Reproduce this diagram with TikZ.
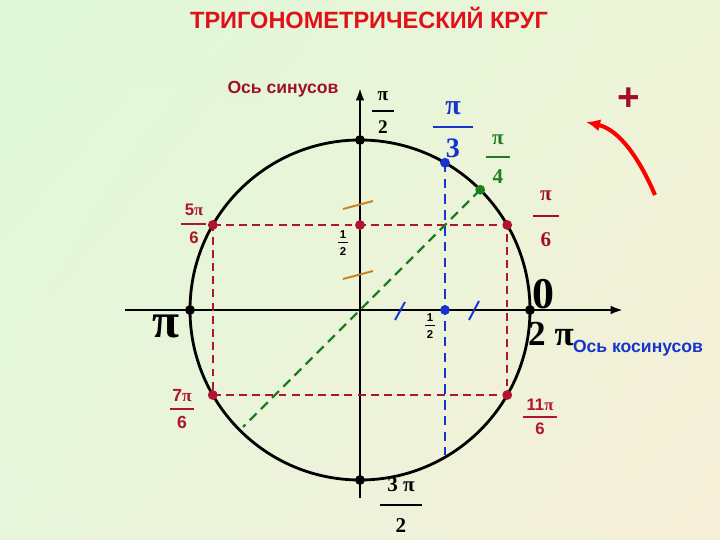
\documentclass[tikz,border=0pt]{standalone}
\usepackage{fontspec}
\setmainfont{Liberation Sans}
\newfontfamily\tms{Liberation Serif}
\usetikzlibrary{arrows.meta,shadings}
\definecolor{bgA}{RGB}{222,248,216}
\definecolor{bgB}{RGB}{246,238,216}
\definecolor{bgC}{RGB}{238,244,216}
\definecolor{bgD}{RGB}{232,246,220}
\definecolor{ttl}{RGB}{226,16,26}
\definecolor{dred}{RGB}{160,16,40}
\definecolor{cred}{RGB}{176,20,48}
\definecolor{cblue}{RGB}{22,52,208}
\definecolor{cgreen}{RGB}{30,125,30}
\definecolor{corange}{RGB}{200,128,30}
\tikzstyle{dot} = [circle, fill, inner sep=0pt, minimum size=5.6pt]
\tikzstyle{frac} = [inner sep=0pt, align=center]
\tikzstyle{axis} = [line width=1.6pt, -{Latex[length=7pt,width=5pt]}]
\tikzstyle{reddash} = [cred, line width=1.2pt, dash pattern=on 4.5pt off 3pt]
\tikzstyle{bluedash} = [cblue, line width=1.2pt, dash pattern=on 5.5pt off 3.5pt]
\tikzstyle{greendash} = [cgreen, line width=1.3pt, dash pattern=on 5.5pt off 3.5pt]
\tikzstyle{tick} = [line width=1.1pt]
\newcommand{\frc}[3]{#1\\\rule[0.3em]{#3}{1.1pt}\\#2}

\begin{document}
\begin{tikzpicture}[x=0.02cm, y=0.02cm]

\shade[upper left=bgA, upper right=bgC, lower left=bgD, lower right=bgB] (-360,-230) rectangle (360,310);
\useasboundingbox (-360,-230) rectangle (360,310);

\coordinate (O) at (0,0);
\coordinate (xl) at (-235,0);
\coordinate (xr) at (263,0);
\coordinate (yb) at (0,-188);
\coordinate (yt) at (0,222);

\draw [axis] (xl) -- (xr);
\draw [axis] (yb) -- (yt);
\draw [line width=1.6pt] (O) circle (170);

\coordinate (p0) at (0:170);
\coordinate (p30) at (30:170);
\coordinate (p45) at (45:170);
\coordinate (p60) at (60:170);
\coordinate (p90) at (90:170);
\coordinate (p150) at (150:170);
\coordinate (p180) at (180:170);
\coordinate (p210) at (210:170);
\coordinate (p270) at (270:170);
\coordinate (p330) at (330:170);
\coordinate (sy) at (0,85);
\coordinate (cx) at (85,0);
\coordinate (bb) at (85,-145);
\coordinate (gg) at (-117,-117);

\draw [reddash] (p150) -- (p30) -- (p330) -- (p210) -- cycle;
\draw [bluedash] (p60) -- (bb);
\draw [greendash] (p45) -- (gg);

\draw [tick, corange] (-17,101) -- (13,109);
\draw [tick, corange] (-17,31) -- (13,39);
\draw [tick, cblue] (35,-10) -- (45,8);
\draw [tick, cblue] (109,-10) -- (119,9);

\node [dot] (d0) at (p0) {};
\node [dot] (d90) at (p90) {};
\node [dot] (d180) at (p180) {};
\node [dot] (d270) at (p270) {};
\node [dot, cred] (d30) at (p30) {};
\node [dot, cred] (d150) at (p150) {};
\node [dot, cred] (d210) at (p210) {};
\node [dot, cred] (d330) at (p330) {};
\node [dot, cred] (dsy) at (sy) {};
\node [dot, cblue] (d60) at (p60) {};
\node [dot, cblue] (dcx) at (cx) {};
\node [dot, cgreen] (d45) at (p45) {};

\node (title) at (9,292) {\fontsize{13.4}{15}\selectfont\bfseries\color{ttl}ТРИГОНОМЕТРИЧЕСКИЙ КРУГ};
\node (sinlab) at (-77,221) {\fontsize{10}{11}\selectfont\bfseries\color{dred}Ось синусов};
\node (coslab) at (278,-38) {\fontsize{10}{11}\selectfont\bfseries\color{cblue}Ось косинусов};

\node [frac, font=\fontsize{11}{9.4}\selectfont\tms\bfseries] (l90) at (23,197) {\frc{π}{2}{0.44cm}};
\node [frac, font=\fontsize{16}{12.2}\selectfont\tms\bfseries, cblue] (l60) at (93,180) {\frc{π}{3}{0.82cm}};
\node [frac, font=\fontsize{12}{11}\selectfont\tms\bfseries, cgreen] (l45) at (138,151) {\frc{π}{4}{0.5cm}};
\node [frac, font=\fontsize{12}{13}\selectfont\tms\bfseries, dred] (l30) at (186,91) {\frc{π}{6}{0.52cm}};
\node [frac, font=\fontsize{9.5}{8}\selectfont\bfseries, cred] (l150) at (-166,86) {\frc{5{\tms π}}{6}{0.5cm}};
\node [frac, font=\fontsize{10}{7.6}\selectfont\bfseries, cred] (l210) at (-178,-99) {\frc{7{\tms π}}{6}{0.5cm}};
\node [frac, font=\fontsize{9.5}{6.8}\selectfont\bfseries, cred] (l330) at (180,-107) {\frc{11{\tms π}}{6}{0.7cm}};
\node [frac, font=\fontsize{12}{11.4}\selectfont\tms\bfseries] (l270) at (41,-195) {\frc{3 π}{2}{0.84cm}};
\node [frac, font=\fontsize{6.5}{4.8}\selectfont\bfseries] (hy) at (-17,67) {\frc{1}{2}{0.2cm}};
\node [frac, font=\fontsize{6.5}{4.8}\selectfont\bfseries] (hx) at (70,-16) {\frc{1}{2}{0.2cm}};

\node (l180) at (-194,-16) {\fontsize{28}{30}\selectfont\tms\bfseries π};
\node (l0) at (183,16) {\fontsize{25}{27}\selectfont\tms\bfseries 0};
\node (l360) at (191,-24) {\fontsize{20}{22}\selectfont\tms\bfseries 2 π};

\node (plus) at (269,211) {\fontsize{22}{24}\selectfont\bfseries\color{dred}+};
\coordinate (as) at (295,115);
\coordinate (ae) at (226,188);
\draw [red, line width=2.3pt, -{Latex[length=8pt,width=7pt]}] (as) .. controls (280,150) and (260,180) .. (ae);

\end{tikzpicture}
\end{document}
